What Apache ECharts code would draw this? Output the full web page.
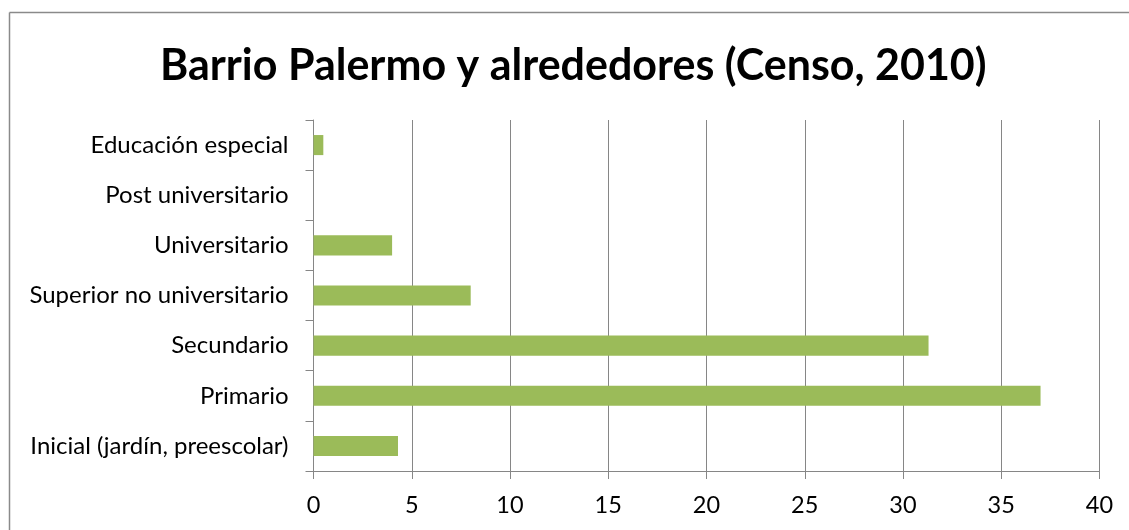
<!DOCTYPE html>
<html>
<head>
<meta charset="utf-8">
<script src="https://cdn.jsdelivr.net/npm/echarts@6/dist/echarts.min.js"></script>
<style>
  html, body { margin: 0; padding: 0; background: #fff; }
  #chart { width: 1129px; height: 530px; }
</style>
</head>
<body>
<div id="chart"></div>
<script>
// categories, bottom to top (ECharts draws category y axis upwards)
const categories = [
  'Inicial (jardín, preescolar)',
  'Primario',
  'Secundario',
  'Superior no universitario',
  'Universitario',
  'Post universitario',
  'Educación especial'
];
const values = [4.3, 37, 31.3, 8, 4, 0, 0.5];

const chart = echarts.init(document.getElementById('chart'));

const option = {
  animation: false,
  textStyle: { fontFamily: 'Lato' },
  title: {
    text: 'Barrio Palermo y alrededores (Censo, 2010)',
    left: 155,
    top: 40,
    textStyle: { fontFamily: 'Lato', fontWeight: 'bold', fontSize: 43, color: '#000' }
  },
  // chart border (top and left only visible in the picture)
  graphic: [
    { type: 'line', shape: { x1: 9.5, y1: 12.5, x2: 1129, y2: 12.5 }, style: { stroke: '#8a8a8a', lineWidth: 1.5 } },
    { type: 'line', shape: { x1: 9.5, y1: 12.5, x2: 9.5, y2: 530 }, style: { stroke: '#8a8a8a', lineWidth: 1.5 } }
  ],
  grid: { left: 313.5, right: 29.5, top: 120, bottom: 59, containLabel: false },
  xAxis: {
    type: 'value',
    min: 0,
    max: 40,
    interval: 5,
    axisLine: { show: true, lineStyle: { color: '#868686' } },
    axisTick: { show: true, length: 8, lineStyle: { color: '#868686' } },
    splitLine: { show: true, lineStyle: { color: '#868686', width: 1 } },
    axisLabel: { fontSize: 23.5, color: '#000', margin: 22 }
  },
  yAxis: {
    type: 'category',
    data: categories,
    axisLine: { show: true, lineStyle: { color: '#868686' } },
    axisTick: { show: true, length: 8, lineStyle: { color: '#868686' } },
    axisLabel: { fontSize: 24, color: '#000', margin: 25 }
  },
  series: [{
    type: 'bar',
    data: values,
    barCategoryGap: '60%',
    itemStyle: { color: '#9BBB59' }
  }]
};

chart.setOption(option);
</script>
</body>
</html>
